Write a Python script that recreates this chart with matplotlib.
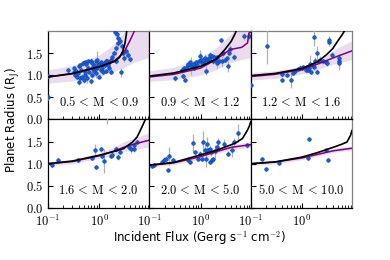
import matplotlib
matplotlib.use("Agg")
import matplotlib.pyplot as plt
import numpy as np

plt.rcParams['font.family'] = 'serif'
plt.rcParams['font.serif'] = ['cmr10']
plt.rcParams['mathtext.fontset'] = 'cm'
plt.rcParams['axes.formatter.use_mathtext'] = True

mass_bins = ['0.5', '0.9', '1.2', '1.6', '2.0', '5.0', '10.0']

# observed planets (flux in Gerg/s/cm^2, radius in R_J)
flux_1 = [0.10, 0.10, 0.25, 0.32, 0.40, 0.43, 0.48, 0.525, 0.56, 0.61, 0.68, 0.73, 0.79, 0.85, 0.92, 0.99, 1.07, 1.15, 1.25, 1.34,
          1.45, 1.56, 1.69, 1.82, 1.96, 2.12, 2.18, 2.29, 2.39, 2.54, 2.66, 2.79, 2.96, 3.10, 3.35, 3.61, 4.02, 2.06, 2.22,
          0.34, 0.37, 0.40, 0.43, 0.465, 0.50, 0.525, 0.58, 0.63, 0.68, 0.73, 0.79, 0.85, 0.92, 0.99, 1.07, 1.19, 1.34, 1.56, 1.69,
          0.32, 0.35, 0.39, 0.45, 0.54, 0.61, 0.71, 0.83, 0.96, 1.12, 1.30, 1.52]
radius_1 = [0.985, 0.50, 1.12, 1.16, 1.21, 1.235, 1.27, 1.29, 1.25, 1.31, 1.33, 1.27, 1.22, 1.31, 1.35, 1.25, 1.29, 1.235, 1.27, 1.33,
            1.31, 1.295, 1.35, 1.42, 1.50, 1.31, 1.61, 1.73, 1.84, 1.78, 1.07, 1.65, 1.50, 1.39, 1.54, 1.46, 1.36, 1.98, 1.92,
            1.01, 0.97, 0.84, 0.93, 0.97, 0.89, 1.01, 0.93, 1.08, 0.86, 1.01, 1.10, 1.05, 1.16, 0.97, 1.12, 1.07, 1.10, 1.16, 1.08,
            1.08, 1.10, 1.05, 1.12, 1.08, 1.17, 1.16, 1.17, 1.22, 1.17, 1.22, 1.235]
err_1 = [0.05, 0.05, 0.05, 0.05, 0.06, 0.05, 0.06, 0.05, 0.06, 0.05, 0.05, 0.06, 0.05, 0.05, 0.20, 0.05, 0.06, 0.05, 0.05, 0.06,
         0.05, 0.06, 0.05, 0.08, 0.06, 0.05, 0.15, 0.10, 0.12, 0.08, 0.10, 0.08, 0.06, 0.10, 0.12, 0.08, 0.06, 0.10, 0.08,
         0.05, 0.06, 0.05, 0.08, 0.05, 0.06, 0.05, 0.10, 0.06, 0.05, 0.08, 0.05, 0.12, 0.05, 0.06, 0.05, 0.06, 0.05, 0.06, 0.05,
         0.05, 0.06, 0.05, 0.05, 0.06, 0.05, 0.06, 0.05, 0.06, 0.05, 0.06, 0.05]

flux_2 = [0.32, 0.45, 0.50, 0.43, 0.465, 0.525, 0.58, 0.63, 0.65, 0.73, 0.79, 0.85, 0.92, 0.99, 1.03, 1.07, 1.15, 1.25, 1.30, 1.34,
          1.45, 1.56, 1.69, 1.75, 1.82, 1.96, 2.12, 2.29, 2.50, 2.66, 2.79, 2.96, 3.35, 3.45, 3.61, 3.85, 4.5, 7.0, 8.8,
          0.58, 0.71, 0.83, 1.12, 1.52, 2.06]
radius_2 = [0.93, 0.985, 0.89, 1.12, 1.16, 1.17, 1.22, 1.29, 1.20, 1.16, 1.25, 1.235, 1.31, 1.44, 1.35, 1.27, 1.31, 1.39, 1.10, 1.35,
            1.39, 1.46, 1.44, 1.31, 1.42, 1.35, 1.27, 1.33, 1.79, 1.31, 1.50, 1.35, 1.39, 1.20, 1.50, 1.60, 1.41, 1.88, 1.88,
            1.25, 1.25, 1.30, 1.35, 1.35, 1.40]
err_2 = [0.05, 0.05, 0.05, 0.06, 0.05, 0.06, 0.05, 0.06, 0.20, 0.05, 0.06, 0.05, 0.06, 0.12, 0.15, 0.06, 0.05, 0.08, 0.10, 0.06,
         0.05, 0.06, 0.05, 0.06, 0.05, 0.06, 0.10, 0.05, 0.06, 0.12, 0.08, 0.06, 0.05, 0.12, 0.06, 0.08, 0.06, 0.08, 0.08,
         0.05, 0.06, 0.05, 0.06, 0.05, 0.06]

flux_3 = [0.10, 0.21, 0.40, 0.41, 0.61, 0.68, 0.73, 0.83, 0.92, 1.07, 1.19, 1.30, 1.40, 1.45, 1.52, 1.69, 1.71, 1.82, 1.96, 1.96,
          2.12, 2.29, 2.54, 2.9, 3.10, 3.35, 3.45, 3.85, 5.2, 5.35, 5.35, 0.99, 1.25, 1.56, 0.50]
radius_3 = [0.78, 1.65, 1.03, 0.89, 0.89, 1.045, 1.10, 1.145, 1.16, 1.175, 1.12, 1.12, 1.16, 1.26, 1.08, 1.175, 1.86, 1.31, 1.08, 1.50,
            1.31, 1.35, 1.31, 1.29, 1.27, 1.75, 1.80, 1.46, 1.39, 1.31, 1.27, 1.16, 1.175, 1.235, 1.01]
err_3 = [0.05, 0.40, 0.06, 0.05, 0.18, 0.05, 0.06, 0.05, 0.06, 0.05, 0.06, 0.05, 0.06, 0.20, 0.05, 0.06, 0.20, 0.10, 0.05, 0.15,
         0.06, 0.08, 0.06, 0.05, 0.06, 0.10, 0.08, 0.06, 0.10, 0.12, 0.15, 0.05, 0.06, 0.05, 0.05]

flux_4 = [0.118, 0.156, 0.387, 0.733, 0.83, 0.853, 1.07, 1.15, 1.25, 1.69, 1.82, 2.12, 2.39, 2.54, 3.9, 4.2, 4.9, 5.4, 4.7, 1.45]
radius_4 = [0.966, 1.079, 1.079, 1.139, 1.303, 0.929, 1.326, 1.176, 1.064, 1.176, 1.206, 1.341, 1.154, 1.266, 1.378, 1.341, 1.431, 1.491, 1.341, 2.15]
err_4 = [0.04, 0.04, 0.04, 0.05, 0.15, 0.05, 0.05, 0.06, 0.28, 0.05, 0.05, 0.06, 0.06, 0.05, 0.06, 0.10, 0.05, 0.05, 0.08, 0.25]

flux_5 = [0.115, 0.124, 0.177, 0.196, 0.214, 0.23, 0.24, 0.29, 0.57, 0.62, 0.70, 0.78, 0.90, 1.05, 1.13, 1.22, 1.28, 1.31, 1.42, 1.53,
          1.57, 1.65, 1.78, 1.92, 2.07, 2.24, 2.83, 3.4, 4.15, 4.6, 5.4, 8.2, 1.53, 0.97]
radius_5 = [0.951, 0.966, 1.041, 1.094, 1.116, 0.854, 1.169, 1.079, 1.094, 1.041, 1.476, 1.266, 1.116, 1.101, 1.491, 1.318, 1.116, 1.453, 1.303, 1.041,
            1.266, 1.079, 1.101, 1.281, 1.378, 1.491, 1.453, 1.229, 1.303, 1.491, 1.70, 1.416, 1.341, 1.229]
err_5 = [0.04, 0.04, 0.05, 0.05, 0.06, 0.05, 0.20, 0.05, 0.06, 0.05, 0.20, 0.05, 0.06, 0.05, 0.25, 0.10, 0.20, 0.15, 0.06, 0.05,
         0.08, 0.06, 0.05, 0.15, 0.06, 0.08, 0.10, 0.05, 0.15, 0.10, 0.20, 0.06, 0.08, 0.05]

flux_6 = [0.169, 0.196, 0.36, 1.31, 1.37, 2.9, 3.3]
radius_6 = [1.116, 0.876, 1.026, 1.131, 1.55, 1.303, 1.094]
err_6 = [0.03, 0.03, 0.03, 0.04, 0.03, 0.04, 0.03]

# black model curves
model_flux = [[0.1, 0.3, 1.0, 2.0, 2.5, 2.9, 3.2, 3.4, 3.5],
              [0.1, 0.3, 1.0, 2.0, 3.0, 4.0, 4.8, 5.3],
              [0.1, 0.3, 1.0, 2.0, 3.0, 4.0, 5.0, 6.0, 6.8, 7.2],
              [0.1, 0.3, 1.0, 2.0, 3.0, 4.5, 5.5, 6.2, 7.0, 7.8, 8.3],
              [0.1, 0.3, 1.0, 2.0, 3.8, 5.0, 6.6, 8.2, 9.0, 9.6],
              [0.1, 0.3, 1.0, 2.0, 4.3, 6.0, 7.6, 8.9, 9.5]]
model_radius = [[0.96, 1.04, 1.19, 1.31, 1.40, 1.54, 1.72, 1.92, 2.05],
                [0.98, 1.05, 1.20, 1.36, 1.58, 1.77, 1.95, 2.10],
                [0.99, 1.04, 1.15, 1.30, 1.46, 1.60, 1.77, 1.90, 2.00, 2.05],
                [1.00, 1.06, 1.19, 1.28, 1.34, 1.49, 1.60, 1.72, 1.85, 1.97, 2.05],
                [0.97, 1.03, 1.20, 1.30, 1.42, 1.48, 1.57, 1.75, 1.85, 1.95],
                [1.00, 1.04, 1.15, 1.25, 1.38, 1.44, 1.49, 1.64, 1.75]]

# purple fit curves
fit_flux = [[0.1, 0.3, 1.0, 2.0, 3.0, 4.0, 5.0],
            [0.1, 0.3, 1.0, 2.0, 3.0, 3.8, 6.4, 8.3, 8.8, 9.5],
            [0.1, 0.3, 1.0, 2.0, 3.0, 5.0, 9.5],
            [0.1, 0.3, 1.0, 2.0, 3.5, 5.0, 9.5],
            [0.1, 0.3, 1.0, 2.0, 4.0, 8.2, 9.5],
            [0.1, 0.3, 1.0, 2.0, 4.0, 9.5]]
fit_radius = [[0.96, 1.03, 1.18, 1.33, 1.50, 1.78, 2.02],
              [0.96, 1.02, 1.16, 1.35, 1.50, 1.58, 1.63, 1.73, 1.95, 1.97],
              [0.97, 1.02, 1.13, 1.25, 1.33, 1.43, 1.55],
              [1.00, 1.05, 1.18, 1.29, 1.40, 1.45, 1.53],
              [0.96, 1.02, 1.16, 1.27, 1.37, 1.42, 1.43],
              [1.00, 1.04, 1.13, 1.21, 1.29, 1.35]]

band_flux = [0.1, 0.3, 1.0, 2.0, 3.0, 5.0, 9.5]
band_upper = [[1.12, 1.22, 1.46, 1.70, 1.95, 2.30, 2.50],
              [1.10, 1.18, 1.38, 1.62, 1.80, 2.05, 2.30],
              [1.06, 1.10, 1.20, 1.35, 1.46, 1.62, 1.78],
              [1.04, 1.10, 1.24, 1.38, 1.50, 1.58, 1.70],
              [1.00, 1.06, 1.21, 1.32, 1.38, 1.45, 1.50],
              [1.04, 1.08, 1.18, 1.26, 1.31, 1.36, 1.40]]
band_lower = [[0.82, 0.87, 0.98, 1.09, 1.17, 1.30, 1.40],
              [0.86, 0.90, 1.00, 1.12, 1.24, 1.32, 1.40],
              [0.89, 0.93, 1.03, 1.13, 1.20, 1.28, 1.35],
              [0.96, 1.00, 1.12, 1.20, 1.27, 1.32, 1.38],
              [0.92, 0.98, 1.11, 1.22, 1.28, 1.33, 1.37],
              [0.96, 1.00, 1.09, 1.17, 1.22, 1.27, 1.30]]

fluxes = [flux_1, flux_2, flux_3, flux_4, flux_5, flux_6]
radii = [radius_1, radius_2, radius_3, radius_4, radius_5, radius_6]
errs = [err_1, err_2, err_3, err_4, err_5, err_6]

fig, axes = plt.subplots(2, 3, figsize=(3.9, 2.6), dpi=100, sharex=True, sharey=True)
fig.subplots_adjust(left=0.123, right=0.903, top=0.881, bottom=0.2, wspace=0, hspace=0)

for i, ax in enumerate(axes.flat):
    ax.fill_between(band_flux, band_lower[i], band_upper[i], color='#d9bfe0', alpha=0.55, lw=0)
    ax.errorbar(fluxes[i], radii[i], yerr=errs[i], fmt='o', ms=2.6, color='#1060e0',
                mec='#0a3fa8', mew=0.4, ecolor='#b0b0b0', elinewidth=0.9, capsize=0, zorder=3)
    ax.plot(fit_flux[i], fit_radius[i], color='#800080', lw=1.1, zorder=4)
    ax.plot(model_flux[i], model_radius[i], color='black', lw=1.2, zorder=5)
    ax.set_xscale('log')
    ax.set_xlim(0.1, 9.6)
    ax.set_ylim(0, 2.0)
    ax.set_yticks([0, 0.5, 1.0, 1.5])
    ax.tick_params(direction='in', which='both', labelsize=9, top=False, right=False)
    ax.tick_params(which='major', length=3.5)
    ax.tick_params(which='minor', length=2)
    ax.text(0.5, 0.12, r'$%s\,<\,\mathrm{M}\,<\,%s$' % (mass_bins[i], mass_bins[i + 1]),
            transform=ax.transAxes, ha='center', va='bottom', fontsize=9)
    for s in ['top', 'right']:
        ax.spines[s].set_color('#808080')
    for s in ax.spines.values():
        s.set_linewidth(0.9)

for ax in axes[1]:
    ax.spines['top'].set_color('black')
    ax.tick_params(axis='x', pad=4)
for ax in axes[:, 1:].flat:
    ax.spines['left'].set_color('black')

fig.text(0.03, 0.54, r'Planet Radius (R$_\mathregular{J}$)', rotation=90, ha='center', va='center',
         fontsize=8.5, family='DejaVu Sans')
fig.text(0.513, 0.085, r'Incident Flux (Gerg s$^{-1}$ cm$^{-2}$)', ha='center', va='center',
         fontsize=8.5, family='DejaVu Sans')

fig.savefig('out.png', dpi=100)
